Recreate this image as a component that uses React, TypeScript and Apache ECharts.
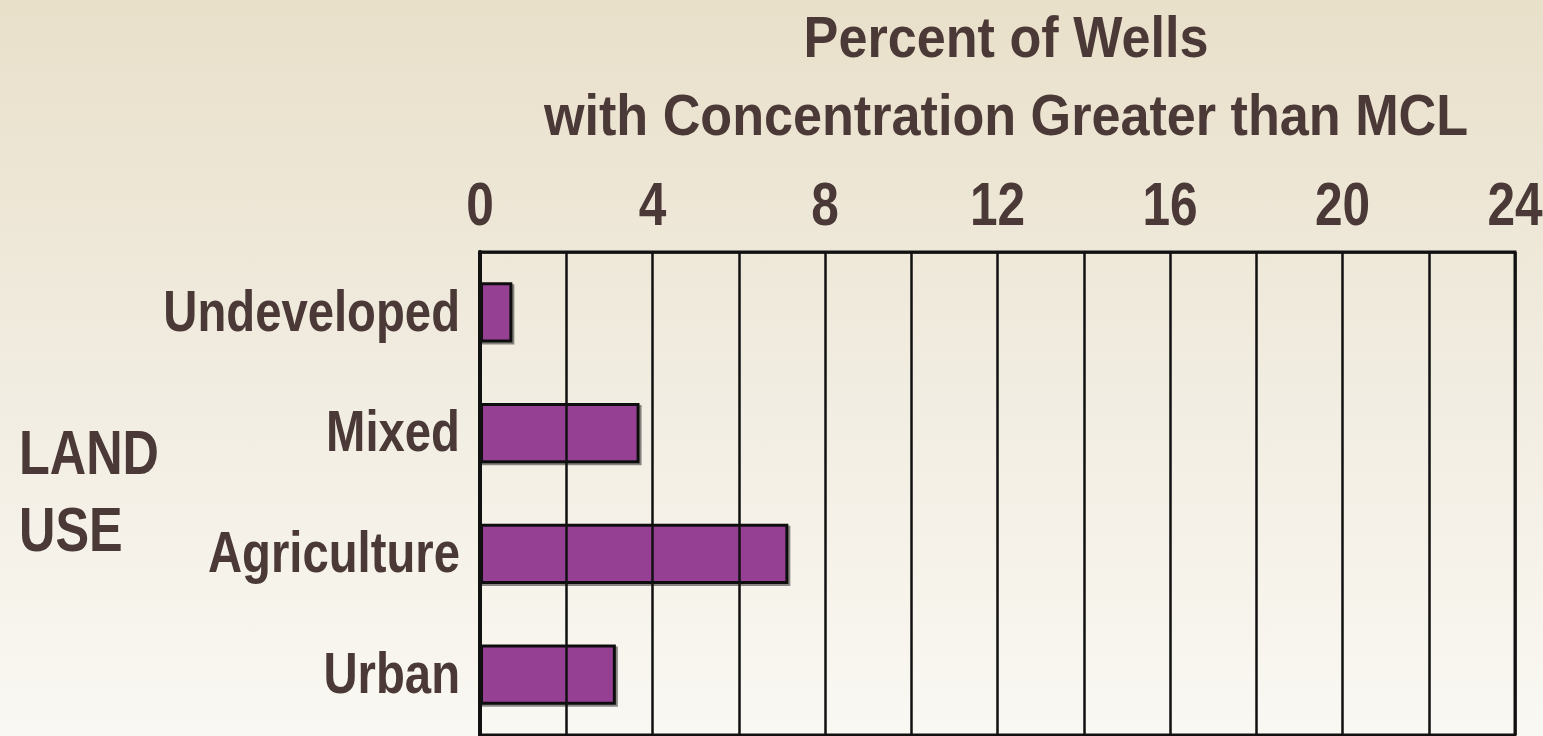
import React, { useEffect, useRef } from "react";
import * as echarts from "echarts";

const categories = ["Undeveloped", "Mixed", "Agriculture", "Urban"];
const percentValues = [0.75, 3.7, 7.15, 3.15];
const titleLines = ["Percent of Wells", "with Concentration Greater than MCL"];
const sideLabel = ["LAND", "USE"];
const xTickLabels = [0, 4, 8, 12, 16, 20, 24];
const xMin = 0;
const xMax = 24;
const gridStep = 2;

const FONT = "'Liberation Sans', Arial, sans-serif";
const TEXT = "#4a3936";
const LINE = "#111111";

function narrowText(text: string, x: number, y: number, size: number, sx: number, align: string) {
  return {
    type: "text",
    x,
    y,
    scaleX: sx,
    silent: true,
    style: {
      text,
      fontFamily: FONT,
      fontWeight: "bold",
      fontSize: size,
      fill: TEXT,
      align,
      textAlign: align,
      verticalAlign: "middle",
      textVerticalAlign: "middle",
    },
  };
}

export default function App() {
  const ref = useRef<HTMLDivElement>(null);
  useEffect(() => {
    if (!ref.current) return;
    const chart = echarts.init(ref.current, null, { renderer: "svg" });
    chart.setOption({
      animation: false,
      backgroundColor: {
        type: "linear", x: 0, y: 0, x2: 0, y2: 1,
        colorStops: [
          { offset: 0, color: "#e9e0ca" },
          { offset: 0.5, color: "#f1ece0" },
          { offset: 1, color: "#faf8f3" },
        ],
      },
      grid: {
        left: 480,
        top: 252,
        width: 1035,
        height: 483,
        outerBoundsMode: "none",
        containLabel: false,
        show: true,
        borderColor: LINE,
        borderWidth: 3,
        backgroundColor: "transparent",
      },
      xAxis: {
        type: "value",
        position: "top",
        min: xMin,
        max: xMax,
        interval: gridStep,
        z: 5,
        axisLine: { show: true, lineStyle: { color: LINE, width: 2.5 } },
        axisTick: { show: false },
        splitLine: { show: true, lineStyle: { color: LINE, width: 2.5 } },
        axisLabel: { show: false },
      },
      yAxis: {
        type: "category",
        data: categories,
        inverse: true,
        z: 5,
        axisLine: { show: true, lineStyle: { color: LINE, width: 4 } },
        axisTick: { show: false },
        splitLine: { show: false },
        axisLabel: { show: false },
      },
      series: [
        {
          type: "bar",
          data: percentValues,
          barWidth: "50%",
          z: 2,
          itemStyle: {
            color: "#953f92",
            borderColor: LINE,
            borderWidth: 3,
            shadowColor: "rgba(0,0,0,0.45)",
            shadowOffsetX: 2,
            shadowOffsetY: 2,
            shadowBlur: 0,
          },
        },
      ],
    });

    const graphics: any[] = [];
    // title
    graphics.push(narrowText(titleLines[0], 1006, 38, 57, 0.915, "center"));
    graphics.push(narrowText(titleLines[1], 1006, 116, 57, 0.915, "center"));
    // side label
    graphics.push(narrowText(sideLabel[0], 19, 452, 63, 0.8, "left"));
    graphics.push(narrowText(sideLabel[1], 19, 529, 63, 0.8, "left"));
    // x tick labels placed with the axis scale
    xTickLabels.forEach((v) => {
      const px = chart.convertToPixel({ xAxisIndex: 0 }, v) as number;
      graphics.push(narrowText(String(v), px, 203, 62, 0.8, "center"));
    });
    // category labels placed with the axis scale
    categories.forEach((c) => {
      const py = chart.convertToPixel({ yAxisIndex: 0 }, c) as number;
      graphics.push(narrowText(c, 460, py - 2, 58, 0.815, "right"));
    });
    chart.setOption({ graphic: graphics });

    return () => chart.dispose();
  }, []);
  return (
    <div
      ref={ref}
      style={{ position: "absolute", left: 0, top: 0, width: 1543, height: 736 }}
    />
  );
}
